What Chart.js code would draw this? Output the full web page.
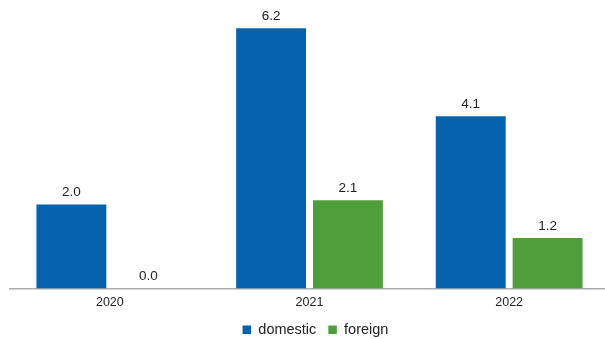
<!DOCTYPE html>
<html>
<head>
<meta charset="utf-8">
<script src="https://cdn.jsdelivr.net/npm/chart.js@4.4.0/dist/chart.umd.min.js"></script>
<style>
  html, body { margin: 0; padding: 0; background: #fff; overflow: hidden; }
  #wrap { width: 609px; height: 351px; }
</style>
</head>
<body>
<div id="wrap"><canvas id="chart"></canvas></div>
<script>
const years = ['2020', '2021', '2022'];
const domestic = [2.0, 6.2, 4.1];
const foreign = [0.0, 2.1, 1.2];

// draw the value above each bar
const valueLabels = {
    id: 'valueLabels',
    afterDatasetsDraw(chart) {
        const ctx = chart.ctx;
        ctx.save();
        ctx.font = '13.5px "Liberation Sans", Arial, sans-serif';
        ctx.fillStyle = '#222';
        ctx.textAlign = 'center';
        ctx.textBaseline = 'bottom';
        chart.data.datasets.forEach((ds, i) => {
            chart.getDatasetMeta(i).data.forEach((bar, j) => {
                ctx.fillText(ds.data[j].toFixed(1), bar.x, bar.y - 5);
            });
        });
        ctx.restore();
    }
};

// legend sits a little right of centre in the original
const nudgeLegend = {
    id: 'nudgeLegend',
    afterLayout(chart) {
        chart.legend.left += 6;
        chart.legend.right += 6;
    }
};

const ctx = document.getElementById('chart').getContext('2d');
const chart = new Chart(ctx, {
    type: 'bar',
    data: {
        labels: years,
        datasets: [{
            label: 'domestic',
            data: domestic,
            backgroundColor: '#0563AE',
            categoryPercentage: 0.77,
            barPercentage: 0.909
        }, {
            label: 'foreign',
            data: foreign,
            backgroundColor: '#4E9F3B',
            categoryPercentage: 0.77,
            barPercentage: 0.909
        }]
    },
    options: {
        responsive: true,
        maintainAspectRatio: false,
        animation: false,
        layout: { padding: { left: 10, right: 0, top: 0, bottom: 4 } },
        plugins: {
            tooltip: { enabled: false },
            legend: {
                position: 'bottom',
                labels: {
                    boxWidth: 8.5,
                    boxHeight: 8.5,
                    padding: 12,
                    color: '#222',
                    font: { family: '"Liberation Sans", Arial, sans-serif', size: 14.5 }
                }
            }
        },
        scales: {
            x: {
                grid: { display: false, drawTicks: false },
                border: { display: true, color: '#aaaaaa', width: 1.5 },
                ticks: {
                    padding: 7,
                    color: '#222',
                    font: { family: '"Liberation Sans", Arial, sans-serif', size: 12.5 }
                },
                afterFit(scale) {
                    scale.height -= 7;
                }
            },
            y: {
                display: false,
                min: 0,
                max: 6.87
            }
        }
    },
    plugins: [valueLabels, nudgeLegend]
});
</script>
</body>
</html>
